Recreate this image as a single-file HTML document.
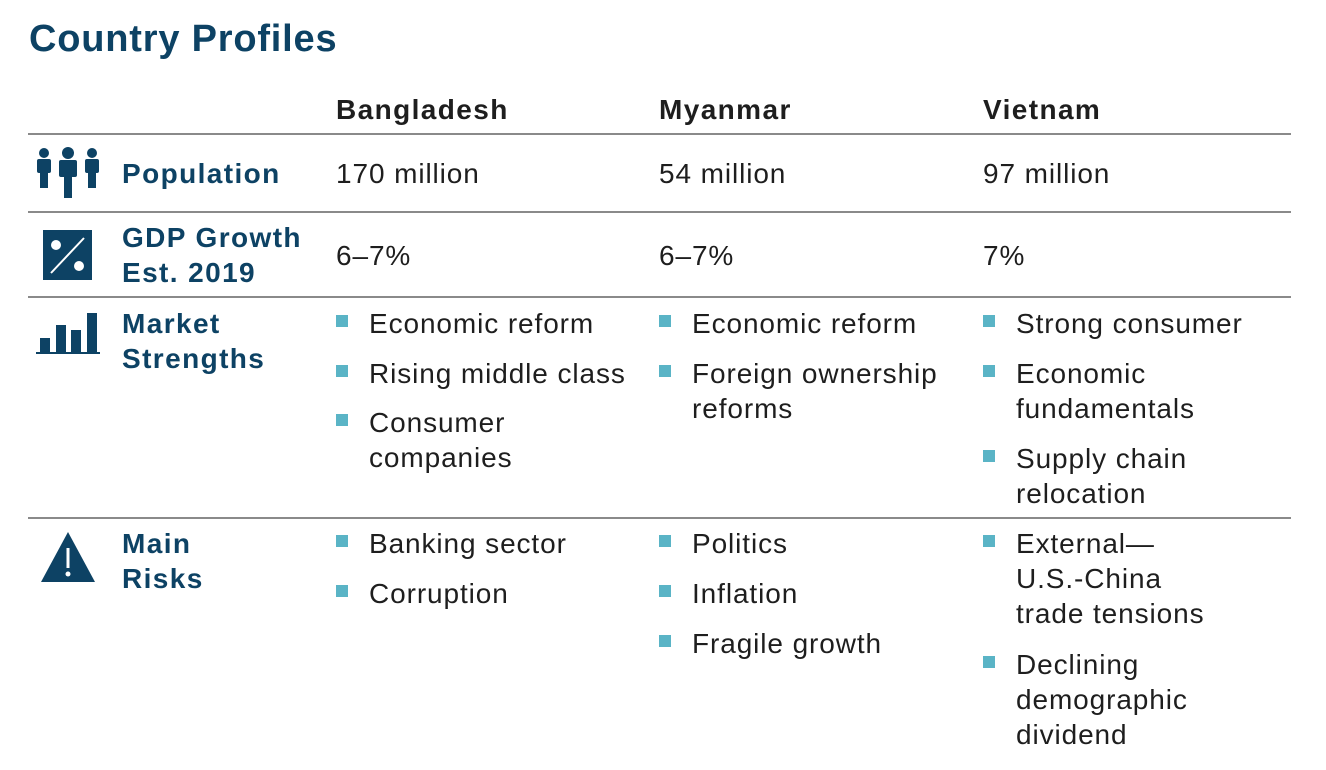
<!DOCTYPE html>
<html><head><meta charset="utf-8">
<style>
body{margin:0;width:1326px;height:770px;background:#fff;position:relative;overflow:hidden;font-family:"Liberation Sans",Arial,sans-serif}
.t{position:absolute;white-space:nowrap;line-height:35px;font-size:28px;letter-spacing:0.9px;color:#1e1e1e}
.b{font-weight:bold;letter-spacing:1.4px}
.lab{color:#0d4264;font-weight:bold;letter-spacing:1.4px}
.hr{position:absolute;left:28px;width:1263px;height:2px;background:#8a8a8a}
.sq{position:absolute;width:12px;height:12px;background:#5ab4c6}
</style></head><body>
<div class="t" style="left:29px;top:19px;font-size:38px;letter-spacing:0.8px;line-height:40px;color:#0d4264;font-weight:bold">Country Profiles</div>

<div class="t b" style="left:336px;top:92px">Bangladesh</div>
<div class="t b" style="left:659px;top:92px">Myanmar</div>
<div class="t b" style="left:983px;top:92px">Vietnam</div>

<div class="hr" style="top:133px"></div>
<div class="hr" style="top:211px"></div>
<div class="hr" style="top:296px"></div>
<div class="hr" style="top:517px"></div>

<svg style="position:absolute;left:36px;top:147px" width="64" height="54" viewBox="0 0 64 54">
<g fill="#0d4264">
<circle cx="8" cy="6" r="5"/><rect x="1" y="12" width="14" height="14" rx="2"/><rect x="4" y="25" width="8" height="16"/>
<circle cx="32" cy="6" r="6"/><rect x="23" y="13" width="18" height="17" rx="2"/><rect x="28" y="28" width="8" height="23"/>
<circle cx="56" cy="6" r="5"/><rect x="49" y="12" width="14" height="14" rx="2"/><rect x="52" y="25" width="8" height="16"/>
</g></svg>
<div class="t lab" style="left:122px;top:156px">Population</div>
<div class="t" style="left:336px;top:156px">170 million</div>
<div class="t" style="left:659px;top:156px">54 million</div>
<div class="t" style="left:983px;top:156px">97 million</div>

<svg style="position:absolute;left:43px;top:230px" width="49" height="50" viewBox="0 0 49 50">
<rect width="49" height="50" fill="#0d4264"/><circle cx="13" cy="15" r="5" fill="#fff"/><circle cx="36" cy="36" r="5" fill="#fff"/>
<line x1="8" y1="43" x2="41" y2="8" stroke="#fff" stroke-width="2"/></svg>
<div class="t lab" style="left:122px;top:220px">GDP Growth<br>Est. 2019</div>
<div class="t" style="left:336px;top:238px">6–7%</div>
<div class="t" style="left:659px;top:238px">6–7%</div>
<div class="t" style="left:983px;top:238px">7%</div>

<svg style="position:absolute;left:36px;top:311px" width="64" height="44" viewBox="0 0 64 44">
<g fill="#0d4264"><rect x="4" y="27" width="10" height="14"/><rect x="20" y="14" width="10" height="27"/><rect x="35" y="19" width="10" height="22"/><rect x="51" y="2" width="10" height="39"/><rect x="0" y="41" width="64" height="2"/></g></svg>
<div class="t lab" style="left:122px;top:306px">Market<br>Strengths</div>

<svg style="position:absolute;left:40px;top:532px" width="56" height="51" viewBox="0 0 56 51">
<polygon points="28,0 55,50 1,50" fill="#0d4264"/><rect x="26.5" y="16" width="3" height="20" fill="#fff"/><circle cx="28" cy="42" r="2.5" fill="#fff"/></svg>
<div class="t lab" style="left:122px;top:526px">Main<br>Risks</div>

<div id="items"></div>
<script>
const items=[
 [336,306,"Economic reform"],[336,356,"Rising middle class"],[336,405,"Consumer<br>companies"],
 [659,306,"Economic reform"],[659,356,"Foreign ownership<br>reforms"],
 [983,306,"Strong consumer"],[983,356,"Economic<br>fundamentals"],[983,441,"Supply chain<br>relocation"],
 [336,526,"Banking sector"],[336,576,"Corruption"],
 [659,526,"Politics"],[659,576,"Inflation"],[659,626,"Fragile growth"],
 [983,526,"External—<br>U.S.-China<br>trade tensions"],[983,647,"Declining<br>demographic<br>dividend"]
];
const host=document.getElementById('items');
items.forEach(function(it){
 const s=document.createElement('div');
 s.className='sq';
 
 
 s.style.left=it[0]+'px';s.style.top=(it[1]+9)+'px';
 host.appendChild(s);
 const t=document.createElement('div');
 t.className='t';
 
 
 t.style.left=(it[0]+33)+'px';t.style.top=it[1]+'px';
 t.innerHTML=it[2];
 host.appendChild(t);
});
</script>
</body></html>
